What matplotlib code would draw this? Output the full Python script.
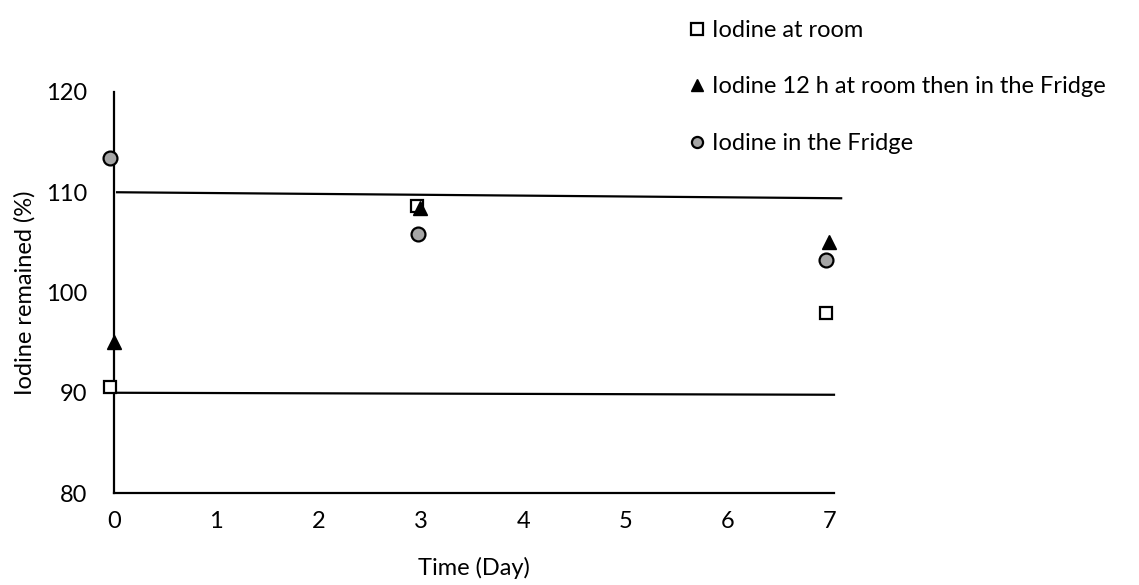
import matplotlib
matplotlib.use("Agg")
import matplotlib.pyplot as plt
from matplotlib.lines import Line2D

plt.rcParams['font.family'] = ['Lato', 'DejaVu Sans']

# Data
room_x = [-0.04, 2.96, 6.96]
room_y = [90.6, 108.6, 98.0]
mixed_x = [0.0, 2.99, 6.99]
mixed_y = [95.1, 108.4, 105.0]
fridge_x = [-0.04, 2.97, 6.96]
fridge_y = [113.4, 105.8, 103.2]

upper_x = [0.03, 7.11]
upper_y = [110.0, 109.4]
lower_x = [0.0, 7.04]
lower_y = [90.0, 89.8]

xticks = [0, 1, 2, 3, 4, 5, 6, 7]
yticks = [80, 90, 100, 110, 120]

labels = ["Iodine at room", "Iodine 12 h at room then in the Fridge", "Iodine in the Fridge"]

FS = 17

fig = plt.figure(figsize=(11.39, 5.85), dpi=100)
ax = fig.add_axes([114/1139, 1-493/585, (834-114)/1139, (493-92)/585])

ax.plot(upper_x, upper_y, color='black', lw=1.6, clip_on=False, zorder=2)
ax.plot(lower_x, lower_y, color='black', lw=1.6, clip_on=False, zorder=2)

ax.plot(room_x, room_y, ls='none', marker='s', ms=9, mfc='white', mec='black', mew=1.6, clip_on=False, zorder=3)
ax.plot(mixed_x, mixed_y, ls='none', marker='^', ms=10, mfc='black', mec='black', mew=1, clip_on=False, zorder=4)
ax.plot(fridge_x, fridge_y, ls='none', marker='o', ms=10, mfc='#a6a6a6', mec='black', mew=1.6, clip_on=False, zorder=3)

ax.set_xlim(0, 7.04)
ax.set_ylim(80, 120)
ax.set_xticks(xticks)
ax.set_yticks(yticks)
ax.tick_params(length=0, labelsize=FS)
ax.tick_params(axis='x', pad=13)
ax.tick_params(axis='y', pad=19)
for s in ['top', 'right']:
    ax.spines[s].set_visible(False)
for s in ['left', 'bottom']:
    ax.spines[s].set_linewidth(1.6)

ax.set_xlabel("Time (Day)", fontsize=FS, labelpad=18)
ax.set_ylabel("Iodine remained (%)", fontsize=FS, labelpad=8)

handles = [
    Line2D([], [], ls='none', marker='s', ms=8, mfc='white', mec='black', mew=1.6),
    Line2D([], [], ls='none', marker='^', ms=8, mfc='black', mec='black'),
    Line2D([], [], ls='none', marker='o', ms=8, mfc='#a6a6a6', mec='black', mew=1.6),
]
fig.legend(handles, labels, loc='upper left', bbox_to_anchor=(690/1139, 1-20/585),
           frameon=False, fontsize=FS, labelspacing=1.5, handlelength=0.6,
           handletextpad=0.32, borderaxespad=0, borderpad=0)

fig.savefig("out.png", dpi=100)
